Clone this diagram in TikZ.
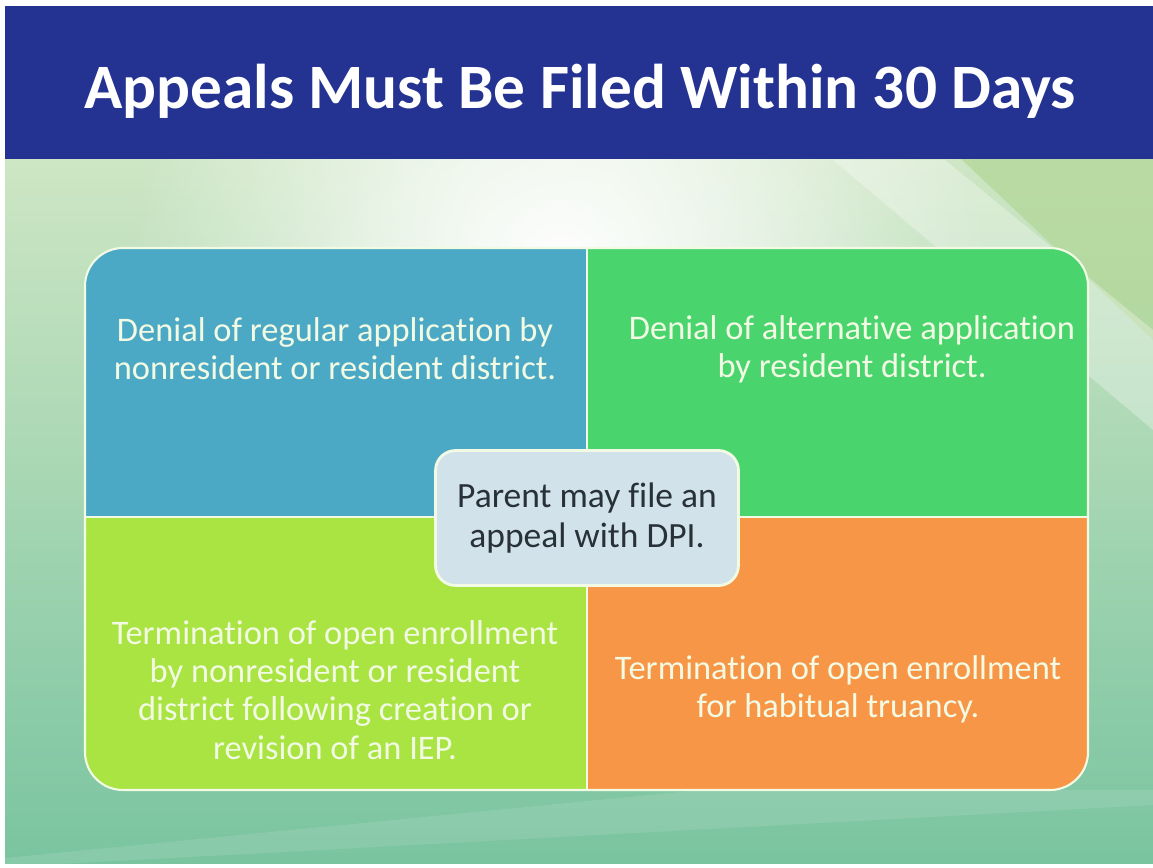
\documentclass[tikz,border=0pt]{standalone}
\usepackage{fontspec}
\setmainfont{Carlito}[Ligatures={NoCommon,NoContextual,NoRare}]
\usetikzlibrary{fadings}

\definecolor{bandblue}{RGB}{36,50,145}
\definecolor{quadtl}{RGB}{75,169,197}
\definecolor{quadtr}{RGB}{74,212,110}
\definecolor{quadbl}{RGB}{170,228,66}
\definecolor{quadbr}{RGB}{247,150,70}
\definecolor{centrefill}{RGB}{210,226,234}
\definecolor{cream}{RGB}{242,250,228}
\definecolor{darktext}{RGB}{40,48,56}
\definecolor{bgtop}{RGB}{206,230,196}
\definecolor{bgbottom}{RGB}{122,196,160}
\definecolor{bgleaf}{RGB}{178,214,150}

\tikzfading[name=glow, inner color=transparent!0, outer color=transparent!100]

\begin{document}
\begin{tikzpicture}[x=0.02cm,y=-0.02cm]
	% sizes of the matrix (in pixels of the slide)
	\def\lft{85}
	\def\rgt{1088}
	\def\upy{248}
	\def\lowy{790}
	\def\midx{587}
	\def\midy{517}
	\def\rad{0.76cm}
	% node style definition
	\tikzstyle{quadtext} = [text=cream, align=center, font=\fontsize{19.6}{21.7}\selectfont];
	\tikzstyle{divider} = [draw=cream, line width=1.2pt];
	\tikzstyle{centrebox} = [draw=cream, line width=1.6pt, fill=centrefill, rounded corners=0.4cm, minimum width=6.06cm, minimum height=2.7cm, align=center, text=darktext, font=\fontsize{20.2}{22.6}\selectfont];
	\useasboundingbox (0,0) rectangle (1153,867);
	% slide background
	\shade[top color=bgtop, bottom color=bgbottom] (5,158) rectangle (1153,863);
	\fill[bgleaf, opacity=0.7] (960,158) -- (1153,158) -- (1153,340) -- cycle;
	\fill[white, opacity=0.3] (833,160) -- (945,160) -- (1153,330) -- (1153,430) -- cycle;
	\fill[white, opacity=0.1] (5,858) -- (700,790) -- (1153,790) -- (1153,805) -- (5,867) -- cycle;
	\fill[white, path fading=glow] (560,270) circle (430);
	\fill[white, opacity=0.3, path fading=glow] (580,330) circle (330);
	% title band
	\fill[bandblue] (5,6) rectangle (1153,159);
	\node[text=white, font=\fontsize{36}{40}\selectfont\bfseries] (title) at (580,91) {Appeals Must Be Filed Within 30 Days};
	% the four quadrants
	\begin{scope}
		\clip[rounded corners=\rad] (\lft,\upy) rectangle (\rgt,\lowy);
		\fill[quadtl] (\lft,\upy) rectangle (\midx,\midy);
		\fill[quadtr] (\midx,\upy) rectangle (\rgt,\midy);
		\fill[quadbl] (\lft,\midy) rectangle (\midx,\lowy);
		\fill[quadbr] (\midx,\midy) rectangle (\rgt,\lowy);
	\end{scope}
	\draw[divider, rounded corners=\rad] (\lft,\upy) rectangle (\rgt,\lowy);
	\draw[divider] (\midx,\upy) -- (\midx,\lowy);
	\draw[divider] (\lft,\midy) -- (\rgt,\midy);
	% texts
	\node[quadtext] (denialreg) at (335,349) {Denial of regular application by\\nonresident or resident district.};
	\node[quadtext] (denialalt) at (852,349) {Denial of alternative application\\by resident district.};
	\node[quadtext] (termiep) at (335,690) {Termination of open enrollment\\by nonresident or resident\\district following creation or\\revision of an IEP.};
	\node[quadtext] (termtruancy) at (838,689) {Termination of open enrollment\\for habitual truancy.};
	\node[centrebox] (parent) at (587,518) {Parent may file an\\appeal with DPI.};
\end{tikzpicture}
\end{document}
